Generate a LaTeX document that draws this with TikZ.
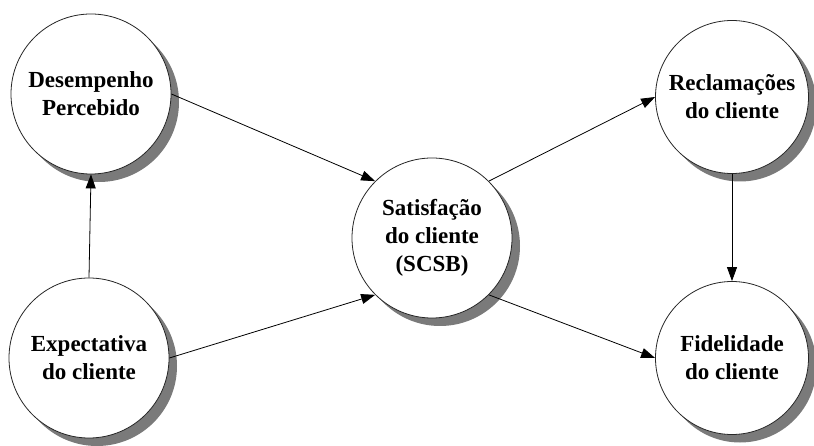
\documentclass[tikz,border=0pt]{standalone}
\usepackage{fontspec}
\setmainfont{Liberation Serif}
\usetikzlibrary{arrows.meta,shadows}
\tikzset{
  stage/.style={circle, draw=black!85, line width=0.8pt, fill=white,
    minimum size=#1, inner sep=0pt, align=center,
    font=\bfseries\fontsize{23}{28}\selectfont,
    general shadow={shadow xshift=8pt, shadow yshift=-8pt, fill=black!52}},
  stage/.default=160pt,
  link/.style={line width=0.8pt, -{Triangle[length=14pt,width=10pt]}}
}
\begin{document}
\begin{tikzpicture}[x=1pt,y=-1pt]
  \useasboundingbox (0,0) rectangle (814,446);
  \node[stage=160pt] (perf) at (91,94) {Desempenho\\Percebido};
  \node[stage=160pt] (expe) at (89,358) {Expectativa\\do cliente};
  \node[stage=160pt] (sat) at (432,238) {Satisfação\\do cliente\\(SCSB)};
  \node[stage=153pt] (recl) at (732,97) {Reclamações\\do cliente};
  \node[stage=153pt] (fide) at (732,358) {Fidelidade\\do cliente};
  \draw[link] (expe.north) -- (perf.south);
  \draw[link] (perf.east) -- (sat.north west);
  \draw[link] (expe.east) -- (sat.south west);
  \draw[link] (sat.north east) -- (recl.west);
  \draw[link] (sat.south east) -- (fide.west);
  \draw[link] (recl.south) -- (fide.north);
\end{tikzpicture}
\end{document}
